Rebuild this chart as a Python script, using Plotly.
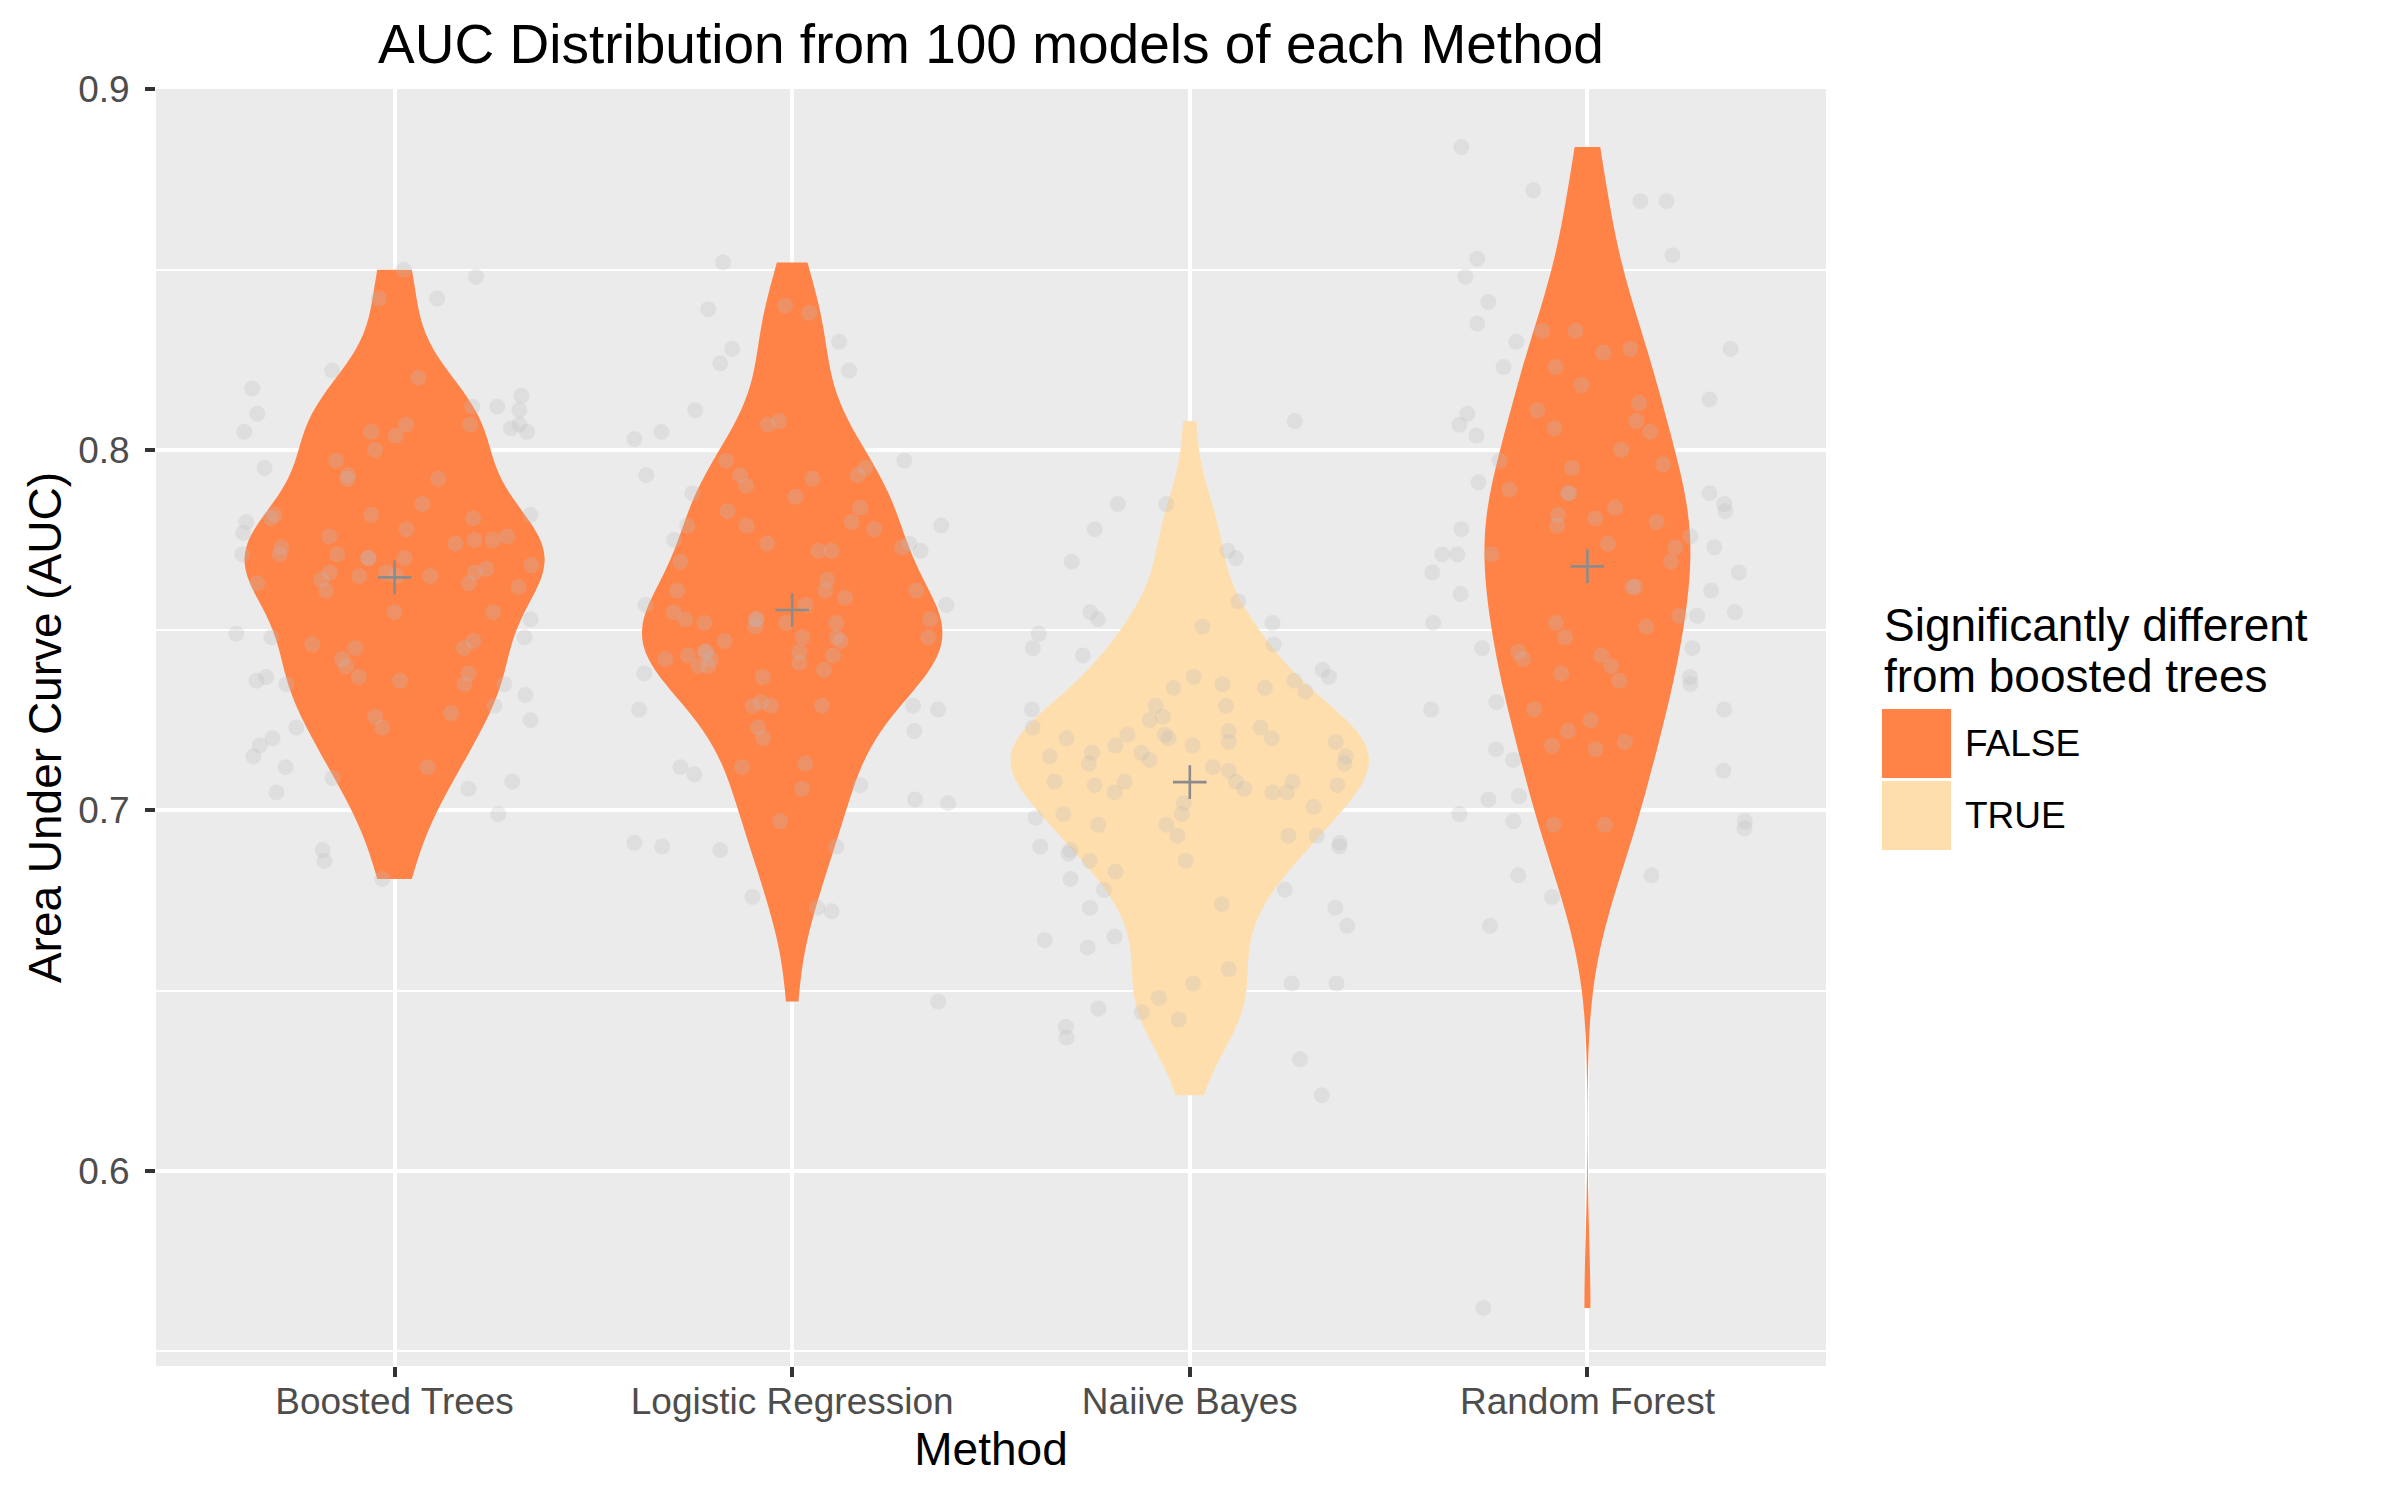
import numpy as np
import plotly.graph_objects as go

FONT = "Liberation Sans, Arial, sans-serif"

methods = ["Boosted Trees", "Logistic Regression", "Naiive Bayes", "Random Forest"]
significant = [False, False, True, False]
fill_colors = {False: "#FF8247", True: "#FFDEAD"}

# AUC of each of the 100 models
boosted_auc = [
    0.850, 0.848, 0.842, 0.842, 0.822, 0.820, 0.817, 0.810, 0.805, 0.815,
    0.812, 0.812, 0.811, 0.806, 0.807, 0.805, 0.807, 0.805, 0.804, 0.807,
    0.800, 0.797, 0.795, 0.793, 0.792, 0.792, 0.785, 0.782, 0.780, 0.782,
    0.781, 0.778, 0.781, 0.782, 0.777, 0.776, 0.775, 0.775, 0.776, 0.774,
    0.773, 0.771, 0.771, 0.771, 0.770, 0.770, 0.768, 0.766, 0.764, 0.763,
    0.765, 0.761, 0.766, 0.765, 0.766, 0.767, 0.763, 0.762, 0.755, 0.755,
    0.753, 0.749, 0.748, 0.746, 0.745, 0.748, 0.747, 0.745, 0.742, 0.740,
    0.736, 0.737, 0.737, 0.736, 0.738, 0.735, 0.735, 0.735, 0.732, 0.729,
    0.727, 0.726, 0.723, 0.725, 0.723, 0.720, 0.718, 0.715, 0.712, 0.712,
    0.709, 0.708, 0.706, 0.705, 0.699, 0.689, 0.686, 0.681, 0.765, 0.770,
]
logistic_auc = [
    0.852, 0.839, 0.840, 0.838, 0.830, 0.828, 0.824, 0.822, 0.811, 0.807,
    0.808, 0.803, 0.805, 0.793, 0.797, 0.793, 0.790, 0.792, 0.795, 0.793,
    0.797, 0.788, 0.787, 0.783, 0.784, 0.779, 0.779, 0.780, 0.778, 0.779,
    0.775, 0.774, 0.772, 0.772, 0.773, 0.774, 0.772, 0.769, 0.764, 0.761,
    0.761, 0.759, 0.761, 0.757, 0.757, 0.757, 0.755, 0.753, 0.752, 0.753,
    0.751, 0.752, 0.752, 0.753, 0.748, 0.748, 0.747, 0.748, 0.747, 0.743,
    0.744, 0.742, 0.744, 0.741, 0.743, 0.742, 0.740, 0.740, 0.738, 0.739,
    0.737, 0.729, 0.730, 0.729, 0.729, 0.729, 0.728, 0.728, 0.722, 0.723,
    0.720, 0.712, 0.710, 0.712, 0.713, 0.707, 0.706, 0.703, 0.702, 0.697,
    0.691, 0.690, 0.689, 0.690, 0.676, 0.673, 0.672, 0.647, 0.744, 0.753,
]
bayes_auc = [
    0.808, 0.785, 0.785, 0.778, 0.769, 0.772, 0.770, 0.758, 0.755, 0.753,
    0.751, 0.752, 0.746, 0.749, 0.745, 0.743, 0.739, 0.737, 0.737, 0.735,
    0.734, 0.734, 0.736, 0.733, 0.729, 0.729, 0.726, 0.725, 0.728, 0.723,
    0.723, 0.722, 0.719, 0.721, 0.720, 0.721, 0.720, 0.720, 0.718, 0.718,
    0.719, 0.715, 0.713, 0.715, 0.716, 0.713, 0.716, 0.714, 0.712, 0.711,
    0.708, 0.706, 0.708, 0.707, 0.708, 0.705, 0.705, 0.705, 0.708, 0.707,
    0.702, 0.699, 0.698, 0.699, 0.701, 0.696, 0.696, 0.693, 0.693, 0.693,
    0.691, 0.690, 0.690, 0.689, 0.688, 0.686, 0.686, 0.683, 0.681, 0.678,
    0.678, 0.673, 0.674, 0.673, 0.668, 0.664, 0.662, 0.665, 0.656, 0.652,
    0.652, 0.652, 0.648, 0.645, 0.644, 0.642, 0.640, 0.637, 0.631, 0.621,
]
forest_auc = [
    0.884, 0.872, 0.869, 0.869, 0.854, 0.853, 0.848, 0.841, 0.835, 0.833,
    0.833, 0.830, 0.827, 0.828, 0.828, 0.823, 0.823, 0.818, 0.814, 0.813,
    0.811, 0.810, 0.807, 0.808, 0.806, 0.805, 0.804, 0.800, 0.797, 0.795,
    0.796, 0.791, 0.789, 0.788, 0.788, 0.785, 0.783, 0.784, 0.782, 0.781,
    0.779, 0.780, 0.778, 0.776, 0.774, 0.773, 0.773, 0.771, 0.771, 0.771,
    0.769, 0.766, 0.766, 0.762, 0.760, 0.761, 0.752, 0.752, 0.754, 0.754,
    0.755, 0.751, 0.748, 0.745, 0.745, 0.744, 0.742, 0.743, 0.740, 0.738,
    0.736, 0.737, 0.735, 0.728, 0.730, 0.728, 0.725, 0.728, 0.722, 0.718,
    0.719, 0.717, 0.717, 0.714, 0.711, 0.703, 0.704, 0.699, 0.697, 0.696,
    0.696, 0.697, 0.695, 0.682, 0.682, 0.676, 0.668, 0.562, 0.762, 0.788,
]

# horizontal jitter of each grey point (category units)
boosted_jit = [
    0.023, 0.205, -0.040, 0.107, -0.157, 0.060, -0.358, -0.345, -0.378, 0.319,
    0.258, 0.195, 0.314, 0.293, 0.314, 0.333, 0.190, -0.059, 0.003, 0.029,
    -0.049, -0.147, -0.327, -0.117, -0.119, 0.110, 0.070, -0.059, -0.373, -0.302,
    -0.312, 0.030, 0.198, 0.342, -0.381, -0.164, 0.201, 0.247, 0.283, 0.153,
    -0.285, -0.289, -0.383, -0.144, -0.066, 0.025, 0.344, -0.163, -0.184, -0.345,
    -0.089, -0.172, -0.021, 0.090, 0.202, 0.231, 0.187, 0.312, 0.000, 0.248,
    0.342, -0.398, -0.310, -0.207, -0.099, 0.327, 0.198, 0.174, -0.132, -0.122,
    -0.347, -0.323, -0.090, 0.014, 0.186, 0.176, -0.272, 0.276, 0.329, 0.251,
    0.142, -0.049, -0.031, 0.342, -0.247, -0.307, -0.339, -0.355, -0.274, 0.083,
    -0.156, 0.296, 0.186, -0.297, 0.261, -0.181, -0.176, -0.031, 0.005, -0.066,
]
logistic_jit = [
    -0.174, -0.211, -0.018, 0.043, 0.118, -0.151, -0.181, 0.143, -0.244, -0.061,
    -0.033, -0.397, -0.329, -0.367, -0.166, -0.131, -0.116, 0.051, 0.184, 0.165,
    0.282, -0.251, 0.008, -0.163, 0.171, -0.264, -0.115, 0.150, 0.206, 0.375,
    -0.297, -0.063, 0.066, 0.099, 0.276, 0.295, 0.323, -0.281, 0.088, 0.083,
    -0.289, 0.133, 0.312, -0.369, 0.034, 0.388, -0.298, -0.269, -0.221, -0.091,
    -0.093, -0.015, 0.111, 0.347, 0.026, 0.112, 0.122, 0.342, -0.170, -0.262,
    -0.216, -0.205, 0.018, 0.018, 0.103, -0.319, -0.236, -0.211, -0.372, 0.080,
    -0.074, -0.099, -0.078, -0.053, 0.075, 0.304, 0.367, -0.385, 0.307, -0.086,
    -0.073, -0.281, -0.246, -0.126, 0.033, 0.171, 0.025, 0.309, 0.392, -0.030,
    -0.397, -0.327, -0.181, 0.111, -0.100, 0.063, 0.099, 0.367, -0.220, -0.090,
]
bayes_jit = [
    0.264, -0.181, -0.059, -0.239, -0.297, 0.095, 0.116, 0.122, -0.250, -0.231,
    0.032, 0.208, 0.211, -0.380, -0.395, -0.269, 0.334, 0.350, 0.010, 0.082,
    -0.041, 0.189, 0.263, 0.291, 0.091, -0.086, -0.068, -0.101, -0.397, -0.395,
    0.178, 0.098, 0.098, -0.063, -0.053, -0.157, -0.310, 0.206, -0.187, 0.007,
    0.367, 0.392, 0.389, -0.352, -0.246, -0.254, -0.122, -0.101, 0.058, 0.098,
    0.116, 0.137, -0.340, -0.239, -0.164, -0.189, 0.208, 0.244, 0.258, 0.371,
    -0.015, -0.020, -0.388, -0.318, 0.311, -0.230, -0.059, -0.031, 0.248, 0.319,
    0.377, 0.376, -0.376, -0.300, -0.305, -0.252, -0.010, -0.187, -0.300, -0.216,
    0.239, -0.251, 0.080, 0.366, 0.396, -0.365, -0.257, -0.189, 0.098, 0.008,
    0.256, 0.369, -0.078, -0.230, -0.121, -0.028, -0.312, -0.310, 0.277, 0.332,
]
forest_jit = [
    -0.317, -0.136, 0.133, 0.199, 0.214, -0.277, -0.307, -0.249, -0.277, -0.114,
    -0.030, -0.179, 0.040, 0.108, 0.360, -0.080, -0.211, -0.015, 0.307, 0.130,
    -0.126, -0.302, -0.322, 0.123, -0.083, 0.158, -0.279, 0.085, -0.221, -0.039,
    0.190, -0.274, -0.196, -0.049, 0.307, 0.344, 0.347, 0.070, -0.074, 0.020,
    -0.076, 0.174, -0.317, 0.259, 0.052, 0.221, 0.319, -0.365, -0.327, -0.241,
    0.210, -0.390, 0.381, 0.113, -0.319, 0.311, -0.388, -0.079, 0.231, 0.276,
    0.371, 0.148, -0.056, -0.265, 0.264, -0.174, -0.162, 0.035, 0.060, -0.066,
    0.080, 0.258, 0.259, -0.393, -0.229, -0.134, 0.008, 0.344, -0.049, -0.089,
    0.094, 0.020, -0.230, -0.187, 0.342, -0.249, -0.172, -0.322, -0.186, -0.085,
    0.044, 0.396, 0.395, -0.174, 0.161, -0.089, -0.245, -0.262, 0.120, -0.045,
]

auc = [boosted_auc, logistic_auc, bayes_auc, forest_auc]
jit = [boosted_jit, logistic_jit, bayes_jit, forest_jit]


def bw_nrd0(v):
    # same rule as R's density() default
    v = np.asarray(v)
    q75, q25 = np.percentile(v, [75, 25])
    lo = min(np.std(v, ddof=1), (q75 - q25) / 1.34)
    return 0.9 * lo * len(v) ** -0.2


def peak_density(v, bw):
    v = np.asarray(v)
    grid = np.linspace(v.min(), v.max(), 512)
    z = (grid[:, None] - v[None, :]) / bw
    dens = np.exp(-0.5 * z ** 2).sum(axis=1) / (len(v) * bw * np.sqrt(2 * np.pi))
    return dens.max()


# ggplot's scale="area": all violins share one density scale, widest gets 0.9
bws = [bw_nrd0(a) for a in auc]
peaks = [peak_density(a, b) for a, b in zip(auc, bws)]
widths = [0.9 * p / max(peaks) for p in peaks]

fig = go.Figure()

for i, m in enumerate(methods):
    col = fill_colors[significant[i]]
    fig.add_trace(go.Violin(
        x=[i + 1] * len(auc[i]), y=auc[i], orientation="v",
        width=widths[i], scalemode="width", spanmode="hard",
        bandwidth=bws[i], points=False,
        fillcolor=col, line=dict(color=col, width=0), opacity=1,
        name=m, showlegend=False, hoverinfo="skip"))

for i, m in enumerate(methods):
    fig.add_trace(go.Scatter(
        x=[i + 1 + d for d in jit[i]], y=auc[i], mode="markers",
        marker=dict(size=16, color="#BEBEBE", opacity=0.27, line=dict(width=0)),
        showlegend=False, hoverinfo="skip"))

fig.add_trace(go.Scatter(
    x=[i + 1 for i in range(len(methods))], y=[np.mean(a) for a in auc],
    mode="markers",
    marker=dict(symbol="cross-thin", size=24, color="#8C8C8C",
                line=dict(width=2.6, color="#8C8C8C")),
    showlegend=False, hoverinfo="skip"))

all_auc = np.concatenate(auc)
span = all_auc.max() - all_auc.min()
y_range = [all_auc.min() - 0.05 * span, all_auc.max() + 0.05 * span]

axis_common = dict(
    showgrid=True, gridcolor="white", gridwidth=3.5, zeroline=False, showline=False,
    ticks="outside", ticklen=10, tickwidth=3.5, tickcolor="#333333",
    tickfont=dict(size=37, color="#4D4D4D", family=FONT),
)

fig.update_xaxes(
    range=[0.4, 4.6], tickmode="array", tickvals=[1, 2, 3, 4], ticktext=methods,
    title=dict(text="Method", font=dict(size=46, color="black", family=FONT), standoff=11),
    ticklabelstandoff=-7, **axis_common)
fig.update_yaxes(
    range=y_range, tickmode="array", tickvals=[0.6, 0.7, 0.8, 0.9],
    ticktext=["0.6", "0.7", "0.8", "0.9"],
    minor=dict(tickmode="array", tickvals=[0.55, 0.65, 0.75, 0.85], showgrid=True,
               gridcolor="white", gridwidth=2, ticks=""),
    title=dict(text="Area Under Curve (AUC)", font=dict(size=46, color="black", family=FONT),
               standoff=2),
    ticklabelstandoff=8, **axis_common)

# legend drawn by hand so the keys get ggplot's large square size
key_x0, key_x1 = 1.0335, 1.0749
keys = [(0.4605, 0.5145, False, "FALSE"), (0.4041, 0.4581, True, "TRUE")]
for y0, y1, flag, label in keys:
    fig.add_shape(type="rect", xref="paper", yref="paper", x0=key_x0, x1=key_x1,
                  y0=y0, y1=y1, fillcolor=fill_colors[flag], line=dict(width=0))
    fig.add_annotation(xref="paper", yref="paper", x=1.082, y=(y0 + y1) / 2,
                       text=label, showarrow=False, xanchor="left", yanchor="middle",
                       font=dict(size=37, color="black", family=FONT))
for yy, line in [(0.5803, "Significantly different"), (0.5407, "from boosted trees")]:
    fig.add_annotation(xref="paper", yref="paper", x=key_x0, y=yy, text=line,
                       showarrow=False, xanchor="left", yanchor="middle",
                       font=dict(size=46, color="black", family=FONT))

fig.update_layout(
    width=2400, height=1500,
    margin=dict(l=156, r=574, t=89, b=134),
    plot_bgcolor="#EBEBEB", paper_bgcolor="white",
    font=dict(family=FONT),
    violinmode="overlay", showlegend=False,
    title=dict(text="AUC Distribution from 100 models of each Method",
               x=0.5, xref="paper", xanchor="center",
               y=1 - 44 / 1500, yref="container", yanchor="middle",
               font=dict(size=55, color="black", family=FONT)),
)

fig.write_html("out.html", config={"displayModeBar": False},
               post_script="document.body.style.margin='0px';")
